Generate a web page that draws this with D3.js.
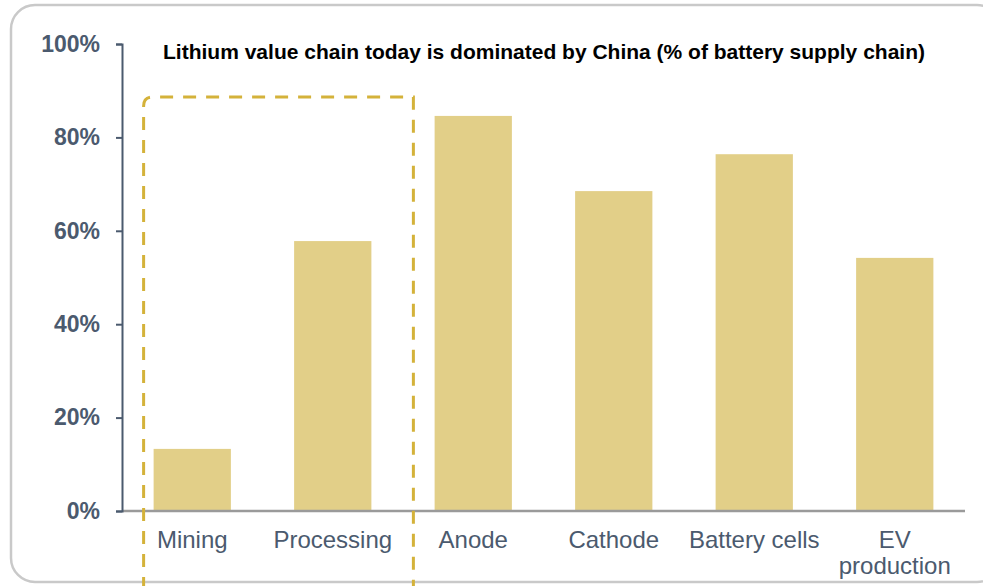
<!DOCTYPE html>
<html>
<head>
<meta charset="utf-8">
<script src="https://cdn.jsdelivr.net/npm/d3@7"></script>
<style>
  html, body { margin: 0; padding: 0; background: #ffffff; }
  svg { display: block; }
</style>
</head>
<body>
<svg id="chart" width="983" height="586"></svg>
<script>
// Share of each battery supply-chain stage located in China (%)
const categories = ["Mining", "Processing", "Anode", "Cathode", "Battery cells", "EV production"];
const shares = [13.3, 57.8, 84.6, 68.5, 76.4, 54.2];
const yTicks = [0, 20, 40, 60, 80, 100];
const title = "Lithium value chain today is dominated by China (% of battery supply chain)";
// Stages grouped by the dashed outline (upstream lithium)
const highlighted = ["Mining", "Processing"];

const svg = d3.select("#chart");
const font = "Arial, 'Liberation Sans', Helvetica, sans-serif";
const axisColor = "#4b5a6e";

// Card frame
svg.append("rect")
  .attr("x", 11).attr("y", 5)
  .attr("width", 990).attr("height", 577)
  .attr("rx", 24).attr("ry", 24)
  .attr("fill", "#ffffff")
  .attr("stroke", "#c9c9c9")
  .attr("stroke-width", 2.5);

const x = d3.scaleBand()
  .domain(categories)
  .range([122, 965])
  .paddingInner(0.45)
  .paddingOuter(0.225);

const y = d3.scaleLinear()
  .domain([0, 100])
  .range([511, 44]);

// Bars
svg.append("g")
  .selectAll("rect")
  .data(categories)
  .join("rect")
  .attr("x", d => x(d))
  .attr("width", x.bandwidth())
  .attr("y", (d, i) => y(shares[i]))
  .attr("height", (d, i) => y(0) - y(shares[i]))
  .attr("fill", "#e2cf88");

// Baseline
svg.append("line")
  .attr("x1", 122).attr("x2", 965)
  .attr("y1", y(0)).attr("y2", y(0))
  .attr("stroke", "#9a9a9a")
  .attr("stroke-width", 2.5);

// Y axis
const yAxis = svg.append("g")
  .attr("transform", "translate(122,0)")
  .call(d3.axisLeft(y).tickValues(yTicks).tickSize(6).tickSizeOuter(6).tickFormat(d => d + "%").tickPadding(16));
yAxis.select(".domain").attr("stroke", axisColor).attr("stroke-width", 2);
yAxis.selectAll(".tick line").attr("stroke", axisColor).attr("stroke-width", 2);
yAxis.selectAll(".tick text")
  .attr("fill", axisColor)
  .attr("font-family", font)
  .attr("font-size", 23)
  .attr("font-weight", "bold");

// X category labels (long two-word label wraps onto a second line)
const xLabels = svg.append("g");
categories.forEach(c => {
  const lines = c === "EV production" ? ["EV", "production"] : [c];
  const t = xLabels.append("text")
    .attr("x", x(c) + x.bandwidth() / 2)
    .attr("y", 548)
    .attr("text-anchor", "middle")
    .attr("font-family", font)
    .attr("font-size", 24)
    .attr("fill", axisColor);
  lines.forEach((l, i) => {
    t.append("tspan")
      .attr("x", x(c) + x.bandwidth() / 2)
      .attr("dy", i === 0 ? 0 : 26)
      .text(l);
  });
});

// Dashed outline around the highlighted stages, open at the bottom
const boxLeft = x(highlighted[0]) - 10;
const lastStage = highlighted[highlighted.length - 1];
const boxRight = x(lastStage) + x.bandwidth() + 42;
const boxTop = 97, cornerR = 9;
svg.append("path")
  .attr("d", `M${boxLeft},590 L${boxLeft},${boxTop + cornerR} Q${boxLeft},${boxTop} ${boxLeft + cornerR},${boxTop} L${boxRight},${boxTop} L${boxRight},590`)
  .attr("fill", "none")
  .attr("stroke", "#d4b23a")
  .attr("stroke-width", 3)
  .attr("stroke-dasharray", "13,10");

// Title
svg.append("text")
  .attr("x", 544)
  .attr("y", 59)
  .attr("text-anchor", "middle")
  .attr("font-family", font)
  .attr("font-size", 21)
  .attr("font-weight", "bold")
  .attr("fill", "#000000")
  .text(title);
</script>
</body>
</html>
